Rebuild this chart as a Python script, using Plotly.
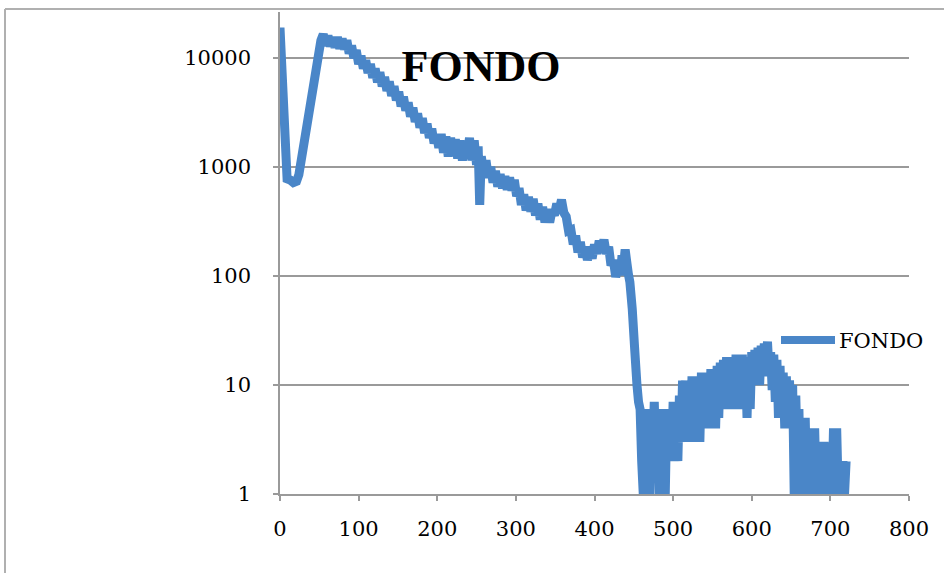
import plotly.graph_objects as go

# ---- data (channel, counts) ----
main_channels = [0, 9, 13, 17, 21, 24,
                 52, 55, 58, 61, 64, 67, 70, 73, 76, 79, 82, 85, 88, 91,
                 94, 97, 100, 103, 106, 109, 112, 115, 118, 121, 124, 127, 130, 133, 136, 139,
                 142, 145, 148, 151, 154, 157, 160, 163, 166, 169, 172, 175, 178, 181, 184, 187,
                 190, 193, 196, 199, 202, 205, 208, 211, 214, 217, 220, 223, 226, 229, 232, 235,
                 238, 241, 244, 247, 250, 252, 254, 256, 259, 262, 265, 268, 271, 274, 277, 280,
                 283, 286, 289, 292, 295, 298, 301, 304, 307, 310, 313, 316, 319, 322, 325, 328,
                 331, 334, 337, 340, 343, 346, 349, 352, 355, 358, 361, 364, 367, 370, 373, 376,
                 379, 382, 385, 388, 391, 394, 397, 400, 403, 406, 409, 412, 415, 418, 421, 424,
                 427, 430, 433, 435, 437, 439, 441, 443, 445, 448, 451, 454]
main_counts = [19000, 780, 760, 720, 740, 850,
               14500, 16500, 13000, 16000, 12800, 15500, 12500, 15500, 12200, 15000, 12000, 14500, 11000, 13000,
               10000, 11800, 8800, 10500, 8000, 9500, 7300, 8800, 6600, 8000, 6000, 7400, 5500, 6700, 5000, 6100,
               4500, 5500, 4100, 4900, 3600, 4400, 3300, 3900, 2900, 3500, 2600, 3100, 2300, 2800, 2050, 2500,
               1850, 2250, 1650, 2000, 1500, 2000, 1350, 1900, 1250, 1850, 1300, 1800, 1200, 1750, 1150, 1700,
               1250, 1850, 1150, 1750, 1050, 1550, 450, 1250, 900, 1150, 800, 1000, 720, 920, 660, 860,
               640, 820, 620, 800, 610, 760, 540, 640, 450, 560, 400, 530, 390, 510, 360, 460,
               330, 430, 310, 410, 310, 400, 360, 460, 400, 500, 380, 350, 260, 265, 195, 235,
               165, 205, 148, 185, 140, 180, 145, 195, 160, 210, 175, 215, 160, 185, 125, 140,
               98, 122, 102, 155, 125, 175, 135, 105, 88, 50, 22, 10]

# noisy tail, one value every 2 channels starting at channel 456
tail_start = 456
tail_counts = [7, 6, 2, 1, 6, 1, 6, 1, 6, 2,
               7, 2, 6, 1, 6, 1, 6, 1, 6, 2,
               6, 2, 7, 2, 7, 2, 8, 3, 11, 3,
               11, 3, 11, 3, 12, 3, 12, 3, 12, 3,
               13, 4, 13, 4, 13, 4, 14, 4, 14, 4,
               15, 5, 16, 6, 17, 6, 18, 6, 17, 7,
               18, 6, 19, 7, 18, 6, 19, 7, 17, 5,
               18, 6, 20, 10, 21, 10, 22, 10, 23, 12,
               24, 14, 25, 13, 20, 9, 19, 7, 17, 5,
               15, 5, 13, 4, 12, 4, 11, 4, 10, 1,
               8, 2, 6, 1, 5, 1, 5, 1, 4, 1,
               4, 1, 4, 1, 3, 1, 3, 1, 3, 1,
               2, 1, 2, 1, 4, 1, 4, 1, 2, 1,
               2, 1, 2]
tail_channels = list(range(tail_start, tail_start + 2 * len(tail_counts), 2))

channels = main_channels + tail_channels
counts = main_counts + tail_counts

series_name = "FONDO"
title_text = "FONDO"
y_tickvals = [1, 10, 100, 1000, 10000]
y_ticktext = ["1", "10", "100", "1000", "10000"]
x_tickvals = [0, 100, 200, 300, 400, 500, 600, 700, 800]

# ---- figure ----
LINE_COLOR = "#4a86c8"
GRID = "#9a9a9a"
W, H = 944, 573
L, R, T, B = 280, 35, 12, 79
pw, ph = W - L - R, H - T - B

def px_to_paper_x(px):
    return (px - L) / pw

def px_to_paper_y(py):
    return (H - B - py) / ph

fig = go.Figure()
fig.add_trace(go.Scatter(x=channels, y=counts, mode="lines", name=series_name,
                         line=dict(color=LINE_COLOR, width=9, simplify=False),
                         showlegend=False))

font_serif = "DejaVu Serif"

fig.update_layout(
    width=W, height=H,
    margin=dict(l=L, r=R, t=T, b=B),
    paper_bgcolor="white", plot_bgcolor="white",
    title=dict(text=title_text, x=px_to_paper_x(481), xref="paper", xanchor="center",
               y=1 - 66 / H, yref="container", yanchor="middle",
               font=dict(family="Liberation Serif", size=44, color="black", weight="bold")),
    xaxis=dict(range=[0, 800], tickvals=x_tickvals, showgrid=False, zeroline=False,
               showline=True, linecolor=GRID, linewidth=1.5,
               ticks="outside", ticklen=5, tickcolor=GRID, tickwidth=1.5,
               tickfont=dict(family=font_serif, size=21, color="black"),
               ticklabelstandoff=10),
    yaxis=dict(type="log", range=[0, (H - B - T) / 109.0], tickvals=y_tickvals,
               ticktext=y_ticktext, showgrid=True, gridcolor=GRID, gridwidth=1.5,
               zeroline=False, showline=True, linecolor=GRID, linewidth=1.5,
               ticks="outside", ticklen=5, tickcolor=GRID, tickwidth=1.5,
               tickfont=dict(family=font_serif, size=21, color="black"),
               ticklabelstandoff=18),
)

# chart border (left and top edges)
fig.add_shape(type="line", xref="paper", yref="paper",
              x0=px_to_paper_x(5), x1=px_to_paper_x(944), y0=px_to_paper_y(9), y1=px_to_paper_y(9),
              line=dict(color="#b0b0b0", width=2))
fig.add_shape(type="line", xref="paper", yref="paper",
              x0=px_to_paper_x(5), x1=px_to_paper_x(5), y0=px_to_paper_y(9), y1=px_to_paper_y(573),
              line=dict(color="#b0b0b0", width=2))

# legend (drawn manually: long line sample + label)
fig.add_shape(type="line", xref="paper", yref="paper",
              x0=px_to_paper_x(781), x1=px_to_paper_x(835), y0=px_to_paper_y(340), y1=px_to_paper_y(340),
              line=dict(color=LINE_COLOR, width=8))
fig.add_annotation(text=series_name, xref="paper", yref="paper",
                   x=px_to_paper_x(837), y=px_to_paper_y(341), xanchor="left", yanchor="middle",
                   showarrow=False, font=dict(family=font_serif, size=21, color="black"))

fig.write_html("out.html")
